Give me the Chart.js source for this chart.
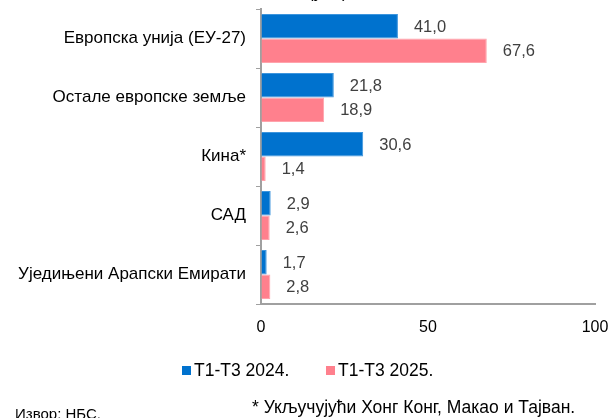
<!DOCTYPE html>
<html>
<head>
<meta charset="utf-8">
<script src="https://cdn.jsdelivr.net/npm/chart.js@4"></script>
<style>
  html, body { margin: 0; padding: 0; background: #fff; overflow: hidden; }
  #wrap { position: relative; width: 614px; height: 418px; font-family: "Liberation Sans", Arial, sans-serif; color: #000; }
  #chart { position: absolute; left: 0; top: 0; }
  #unit { position: absolute; top: -17px; left: 308px; font-size: 17px; }
  .leg { position: absolute; top: 360px; font-size: 17.5px; line-height: 20px; white-space: nowrap; }
  .leg i { display: inline-block; width: 9px; height: 9px; margin-right: 3px; vertical-align: 1px; }
  #source { position: absolute; left: 15px; top: 405px; font-size: 15px; }
  #note { position: absolute; left: 252px; top: 397px; font-size: 17.5px; white-space: nowrap; }
</style>
</head>
<body>
<div id="wrap">
  <canvas id="chart" width="614" height="418"></canvas>
  <div id="unit">(у %)</div>
  <div id="legend"></div>
  <div id="source">Извор: НБС.</div>
  <div id="note">* Укључујући Хонг Конг, Макао и Тајван.</div>
</div>
<script>
const categories = ["Европска унија (ЕУ-27)", "Остале европске земље", "Кина*", "САД", "Уједињени Арапски Емирати"];
const seriesNames = ["Т1-Т3 2024.", "Т1-Т3 2025."];
const values2024 = [41.0, 21.8, 30.6, 2.9, 1.7];
const values2025 = [67.6, 18.9, 1.4, 2.6, 2.8];
const xTicks = [0, 50, 100];

const colors = ["#0072CE", "#FF808D"];
const font = "'Liberation Sans', Arial, sans-serif";
const fmt = (v) => v.toFixed(1).replace(".", ",");

// legend as html, positioned like the reference
const legendX = [182, 326];
seriesNames.forEach((name, i) => {
  const el = document.createElement("div");
  el.className = "leg";
  el.style.left = legendX[i] + "px";
  el.innerHTML = `<i style="background:${colors[i]}"></i>`;
  el.appendChild(document.createTextNode(name));
  document.getElementById("legend").appendChild(el);
});

const valueLabels = {
  id: "valueLabels",
  afterDatasetsDraw(chart) {
    const ctx = chart.ctx;
    ctx.save();
    ctx.font = `16.5px ${font}`;
    ctx.fillStyle = "#404040";
    ctx.textBaseline = "middle";
    chart.data.datasets.forEach((ds, i) => {
      chart.getDatasetMeta(i).data.forEach((bar, j) => {
        ctx.fillText(fmt(ds.data[j]), bar.x + 16, bar.y + 1);
      });
    });
    ctx.restore();
  }
};

new Chart(document.getElementById("chart"), {
  type: "bar",
  data: {
    labels: categories,
    datasets: [
      { label: seriesNames[0], data: values2024, backgroundColor: colors[0], borderColor: "#3d95dd", borderWidth: 1 },
      { label: seriesNames[1], data: values2025, backgroundColor: colors[1], borderColor: "#ffa3ac", borderWidth: 1 },
    ],
  },
  options: {
    indexAxis: "y",
    responsive: false,
    animation: false,
    layout: { padding: { top: 9, right: 19, bottom: 74, left: 0 } },
    datasets: { bar: { categoryPercentage: 0.83, barPercentage: 1.0 } },
    plugins: {
      tooltip: { enabled: false },
      legend: { display: false },
    },
    scales: {
      x: {
        min: 0,
        max: 100,
        afterBuildTicks: (scale) => { scale.ticks = xTicks.map((v) => ({ value: v })); },
        afterFit: (scale) => {
          scale.height = 40;
          scale.paddingLeft = 0;
          scale.paddingRight = 0;
        },
        grid: { display: true, drawOnChartArea: false, drawTicks: false },
        border: { color: "#a0a0a0", width: 2 },
        ticks: { color: "#000", padding: 14, font: { size: 16, family: font } },
      },
      y: {
        afterFit: (scale) => {
          scale.width = 261;
          scale.paddingTop = 0;
          scale.paddingBottom = 0;
        },
        grid: { display: true, drawOnChartArea: false, drawTicks: true, tickLength: 5, color: "#a0a0a0", offset: true },
        border: { color: "#a0a0a0", width: 2 },
        ticks: { color: "#000", padding: 10, font: { size: 17, family: font } },
      },
    },
  },
  plugins: [valueLabels],
});
</script>
</body>
</html>
